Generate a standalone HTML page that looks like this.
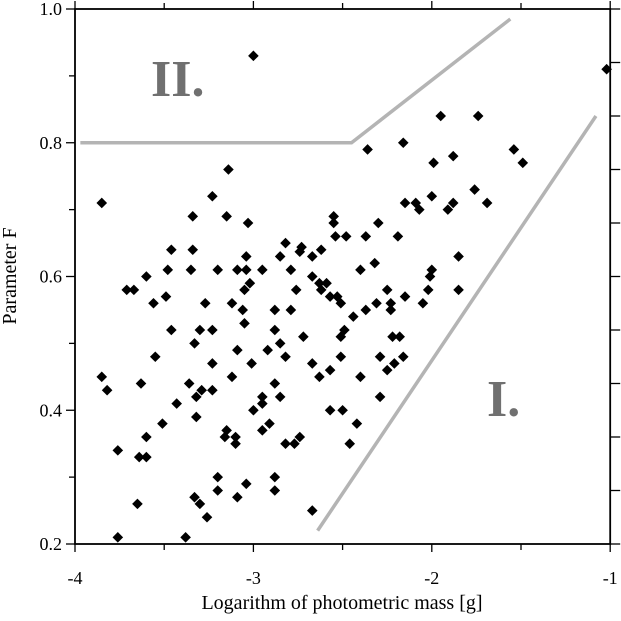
<!DOCTYPE html>
<html><head><meta charset="utf-8"><style>
body{margin:0;background:#fff}
svg text{font-family:"Liberation Serif",serif}
</style></head><body>
<svg id="chart" width="621" height="616" xmlns="http://www.w3.org/2000/svg">
<g id="axes"></g>
<g id="bounds"></g>
<g id="pts"></g>
<text x="151" y="96" font-size="52" font-weight="bold" fill="#707070">II.</text>
<text x="487" y="416" font-size="52" font-weight="bold" fill="#707070">I.</text>
<text x="342" y="609" font-size="20" text-anchor="middle">Logarithm of photometric mass [g]</text>
<text transform="translate(16,276) rotate(-90)" font-size="20" text-anchor="middle">Parameter F</text>
</svg>
<script>
const xs=[-3.14,-3.85,-3.23,-3.34,-3.15,-3.03,-2.55,-2.55,-2.54,-3.46,-3.34,-3.04,-2.82,-2.73,-2.74,-2.67,-2.62,-2.85,-3.48,-3.35,-3.20,-3.09,-3.04,-2.95,-2.79,-3.60,-2.67,-3.71,-3.67,-3.02,-3.05,-2.76,-2.63,-2.59,-2.62,-2.57,-2.53,-3.56,-3.49,-3.27,-3.12,-3.06,-2.88,-2.79,-2.51,-3.05,-3.46,-3.30,-3.23,-2.88,-2.72,-2.51,-3.33,-2.85,-3.09,-2.92,-3.55,-2.82,-2.51,-3.23,-3.01,-2.67,-2.57,-2.63,-3.85,-3.82,-3.63,-3.36,-3.12,-2.88,-3.29,-3.23,-3.32,-3.43,-2.95,-2.95,-2.85,-3.00,-2.57,-2.50,-3.32,-3.51,-2.91,-2.95,-3.15,-3.16,-3.10,-3.10,-3.60,-2.82,-2.77,-2.74,-3.76,-3.64,-3.60,-3.20,-2.88,-3.04,-3.20,-2.88,-3.09,-3.33,-3.30,-3.65,-3.26,-2.67,-3.76,-3.38,-1.95,-1.74,-2.16,-2.36,-1.88,-1.99,-1.54,-1.49,-1.76,-1.69,-2.00,-2.15,-2.09,-2.07,-1.91,-1.88,-2.30,-2.48,-2.37,-2.19,-1.85,-2.32,-2.40,-2.00,-2.01,-2.25,-2.02,-1.85,-2.15,-2.05,-2.37,-2.44,-2.31,-2.23,-2.23,-2.49,-2.22,-2.18,-2.29,-2.16,-2.21,-2.25,-2.40,-2.29,-2.42,-2.46,-3.00,-1.02];
const ys=[0.76,0.71,0.72,0.69,0.69,0.68,0.69,0.68,0.66,0.64,0.64,0.63,0.65,0.644,0.637,0.63,0.64,0.63,0.61,0.61,0.61,0.61,0.61,0.61,0.61,0.60,0.60,0.58,0.58,0.59,0.58,0.58,0.59,0.59,0.58,0.57,0.57,0.56,0.57,0.56,0.56,0.55,0.55,0.55,0.56,0.53,0.52,0.52,0.52,0.52,0.51,0.51,0.50,0.50,0.49,0.49,0.48,0.48,0.48,0.47,0.47,0.47,0.46,0.45,0.45,0.43,0.44,0.44,0.45,0.44,0.43,0.43,0.42,0.41,0.42,0.41,0.42,0.40,0.40,0.40,0.39,0.38,0.38,0.37,0.37,0.36,0.36,0.35,0.36,0.35,0.35,0.36,0.34,0.33,0.33,0.30,0.30,0.29,0.28,0.28,0.27,0.27,0.26,0.26,0.24,0.25,0.21,0.21,0.84,0.84,0.80,0.79,0.78,0.77,0.79,0.77,0.73,0.71,0.72,0.71,0.71,0.70,0.70,0.71,0.68,0.66,0.66,0.66,0.63,0.62,0.61,0.61,0.60,0.58,0.58,0.58,0.57,0.56,0.55,0.54,0.56,0.56,0.55,0.52,0.51,0.51,0.48,0.48,0.47,0.46,0.45,0.42,0.38,0.35,0.93,0.91];
const xTickLabels=["-4","-3","-2","-1"];
const yTickLabels=["0.2","0.4","0.6","0.8","1.0"];
const boundII=[[-3.97,0.8],[-2.45,0.8],[-1.56,0.985]];
const boundI=[[-2.64,0.22],[-1.08,0.84]];
const X=v=>75+(v+4)*178.4, Y=v=>9+(1-v)*668.75;
const NS="http://www.w3.org/2000/svg";
function mk(t,a,p){const e=document.createElementNS(NS,t);for(const k in a)e.setAttribute(k,a[k]);p.appendChild(e);return e;}
const ax=document.getElementById('axes');
const frame=mk('rect',{x:X(-4),y:Y(1),width:X(-1)-X(-4),height:Y(0.2)-Y(1),fill:'none',stroke:'#000','stroke-width':1.8},ax);


for(let i=0;i<=6;i++){const v=-4+i*0.5,len=i%2?6:8;
 const t1=mk('line',{x1:X(v),x2:X(v),y1:Y(0.2),y2:Y(0.2)+len,stroke:'#000','stroke-width':1.3},ax);
 
 
 const t2=mk('line',{x1:X(v),x2:X(v),y1:Y(1),y2:Y(1)-len,stroke:'#000','stroke-width':1.3},ax);
 
 }
xTickLabels.forEach((s,i)=>{const t=mk('text',{x:X(-4+i),y:584,'font-size':18,'text-anchor':'middle'},ax);t.textContent=s;
 
 });
for(let i=0;i<=8;i++){const v=0.2+i*0.1;
 const t=mk('line',{x1:X(-4)-(i%2?6:9),x2:X(-4),y1:Y(v),y2:Y(v),stroke:'#000','stroke-width':1.3},ax);
 
 }
for(let i=0;i<=10;i++){const v=0.2+i*0.08;
 const t=mk('line',{x1:X(-1),x2:X(-1)+10,y1:Y(v),y2:Y(v),stroke:'#000','stroke-width':1.3},ax);
 
 }
yTickLabels.forEach((s,i)=>{const t=mk('text',{x:62,y:Y(0.2+i*0.2)+6,'font-size':18,'text-anchor':'end'},ax);t.textContent=s;
 
 });
const bd=document.getElementById('bounds');
const p2=mk('polyline',{points:boundII.map(p=>X(p[0])+','+Y(p[1])).join(' '),fill:'none',stroke:'#b4b4b4','stroke-width':3.5},bd);


const p1=mk('polyline',{points:boundI.map(p=>X(p[0])+','+Y(p[1])).join(' '),fill:'none',stroke:'#b4b4b4','stroke-width':3.5},bd);


const pg=document.getElementById('pts');
xs.forEach((x,i)=>{const cx=X(x),cy=Y(ys[i]),r=5.3;
 const d=mk('polygon',{points:`${cx},${cy-r} ${cx+r},${cy} ${cx},${cy+r} ${cx-r},${cy}`,fill:'#000'},pg);
 
 });
</script>
</body></html>
